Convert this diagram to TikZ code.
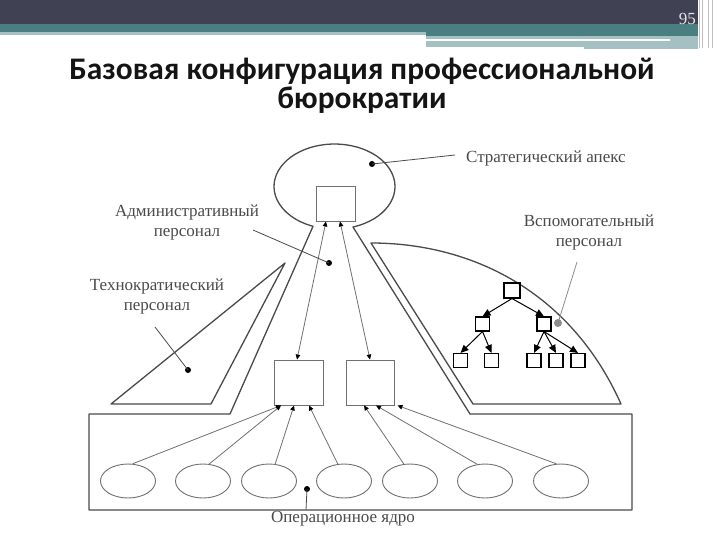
\documentclass[tikz,border=0pt]{standalone}
\usepackage{fontspec}
\setmainfont{Liberation Serif}
\newfontfamily\titlefont{Carlito}
\usetikzlibrary{arrows.meta,shapes.geometric}
\definecolor{hdark}{HTML}{404153}
\definecolor{hteal}{HTML}{4A7F81}
\definecolor{hlight}{HTML}{A5C0C2}
\definecolor{lbl}{HTML}{4A4A4A}
\definecolor{ln}{HTML}{4A4A4A}
\definecolor{lnlight}{HTML}{707070}
\begin{document}
\begin{tikzpicture}[x=1pt,y=-1pt,
  outline/.style={draw=ln,line width=1.3pt,line join=round},
  lbltext/.style={text=lbl,font=\fontsize{17}{20}\selectfont,align=center,inner sep=0pt},
  midbox/.style={draw=lnlight,line width=0.9pt,minimum width=48pt,minimum height=45pt,inner sep=0pt},
  coreell/.style={ellipse,draw=lnlight,line width=0.9pt,minimum width=55pt,minimum height=34pt,inner sep=0pt},
  treebox/.style={draw=black,line width=1.1pt,minimum width=14pt,minimum height=14pt,inner sep=0pt},
  treearrow/.style={draw=black,line width=1pt,-{Triangle[length=8pt,width=7pt]}},
  uparrow/.style={draw=lnlight,line width=0.8pt,-{Triangle[length=5pt,width=4.5pt,color=black]}},
  biarrow/.style={draw=lnlight,line width=0.8pt,{Triangle[length=5pt,width=4.5pt,color=black]}-{Triangle[length=5pt,width=4.5pt,color=black]}},
  leader/.style={draw=ln,line width=0.8pt},
  dotmark/.style={circle,fill=black,inner sep=0pt,minimum size=6pt}
]
\useasboundingbox (0,0) rectangle (720,540);
\fill[white] (0,0) rectangle (720,540);
% header
\fill[hdark] (0,0) rectangle (698,24);
\fill[hteal] (0,24) rectangle (698,32);
\fill[hlight] (0,32) rectangle (426,35);
\fill[hteal] (426,32) rectangle (698,36.5);
\fill[hlight] (426,36.5) rectangle (698,47);
\fill[white] (426,39.5) rectangle (670,41.5);
\fill[hlight] (584,47) rectangle (698,49);
\foreach \xx in {699,702,708,712}
  \draw[draw=black!25,line width=0.6pt] (\xx,0) -- (\xx,48);
\node[anchor=base east,text=white!90!black,font=\fontsize{17}{17}\selectfont,inner sep=0pt] (pnum) at (696,25) {95};
% title
\node[anchor=base,font=\titlefont\bfseries\fontsize{31.4}{32}\selectfont,text=black!92,inner sep=0pt] (t1) at (362,80) {Базовая конфигурация профессиональной};
\node[anchor=base,font=\titlefont\bfseries\fontsize{31.4}{32}\selectfont,text=black!92,inner sep=0pt] (t2) at (362,109) {бюрократии};

% core + funnel + apex outline
\draw[outline] (230,414) -- (89,414) -- (89,510) -- (632,510) -- (632,414) -- (470,414) -- (353,227)
  arc[start angle=72.2, end angle=-249.2, x radius=60.5, y radius=42.5] -- cycle;
% technostructure triangle
\draw[outline] (285,263) -- (111,404) -- (211,404) -- cycle;
% support staff
\draw[outline] (371,243) .. controls (470,243) and (570,290) .. (621,404) -- (473,404) -- cycle;

% apex box and middle line boxes
\node[draw=lnlight,line width=0.9pt,minimum width=39pt,minimum height=35pt,inner sep=0pt] (apex) at (335.5,203.5) {};
\node[midbox,minimum width=49pt] (mbL) at (298.5,382.5) {};
\node[midbox] (mbR) at (370,382.5) {};
\draw[biarrow] ([xshift=-9.5]apex.south) -- ([xshift=-1.5]mbL.north);
\draw[biarrow] ([xshift=4.5]apex.south) -- (mbR.north);

% operating core ellipses
\node[coreell] (e1) at (128,481) {};
\node[coreell] (e2) at (203,481) {};
\node[coreell] (e3) at (269,481) {};
\node[coreell] (e4) at (344,481) {};
\node[coreell] (e5) at (410,481) {};
\node[coreell] (e6) at (485,481) {};
\node[coreell] (e7) at (561,481) {};
\draw[uparrow] (e1.75) -- ([xshift=-17.5]mbL.south);
\draw[uparrow] (e2.70) -- ([xshift=-17.5]mbL.south);
\draw[uparrow] (e3.70) -- ([xshift=-4.5]mbL.south);
\draw[uparrow] (e4.110) -- ([xshift=10.5]mbL.south);
\draw[uparrow] (e5.110) -- ([xshift=-6]mbR.south);
\draw[uparrow] (e6.115) -- ([xshift=6]mbR.south);
\draw[uparrow] (e7.105) -- ([xshift=3]mbR.south east);

% support tree
\node[treebox,minimum width=16pt,minimum height=15pt] (s0) at (512,290.5) {};
\node[treebox] (s1) at (482.5,324) {};
\node[treebox] (s2) at (544,324) {};
\node[treebox] (s3) at (460.5,360.5) {};
\node[treebox] (s4) at (491.5,360.5) {};
\node[treebox] (s5) at (534,360.5) {};
\node[treebox] (s6) at (556,360.5) {};
\node[treebox] (s7) at (578,360.5) {};
\draw[treearrow] (s0.south) -- (s1.north);
\draw[treearrow] (s0.south) -- (s2.north);
\draw[treearrow] (s1.south) -- (s3.north);
\draw[treearrow] (s1.south) -- (s4.north);
\draw[treearrow] (s2.south) -- (s5.north);
\draw[treearrow] (s2.south) -- (s6.north);
\draw[treearrow] (s2.south) -- (s7.north);

% labels and leaders
\node[dotmark] (dapex) at (372,164) {};
\node[lbltext,anchor=west] (lapex) at (466,158) {Стратегический апекс};
\coordinate (capex) at (455,155);
\draw[leader] (dapex.center) -- (capex);

\node[dotmark] (dadm) at (329,263) {};
\node[lbltext] (ladm) at (187,222) {Административный\\персонал};
\coordinate (cadm) at (253,230);
\draw[leader] (cadm) -- (dadm.center);

\node[dotmark] (dtech) at (188,370) {};
\node[lbltext] (ltech) at (157,296) {Технократический\\персонал};
\coordinate (ctech) at (155,327);
\draw[leader] (ctech) -- (dtech.center);

\node[dotmark,fill=black!45,minimum size=8pt] (dsup) at (558,323) {};
\node[lbltext] (lsup) at (589,232) {Вспомогательный\\персонал};
\coordinate (csup) at (577,262);
\draw[leader,draw=black!45] (csup) -- (dsup.center);

\node[dotmark] (dcore) at (307,489) {};
\node[lbltext] (lcore) at (343,519) {Операционное ядро};
\coordinate (ccore) at (306,510);
\draw[leader] (dcore.center) -- (ccore);
\end{tikzpicture}
\end{document}
